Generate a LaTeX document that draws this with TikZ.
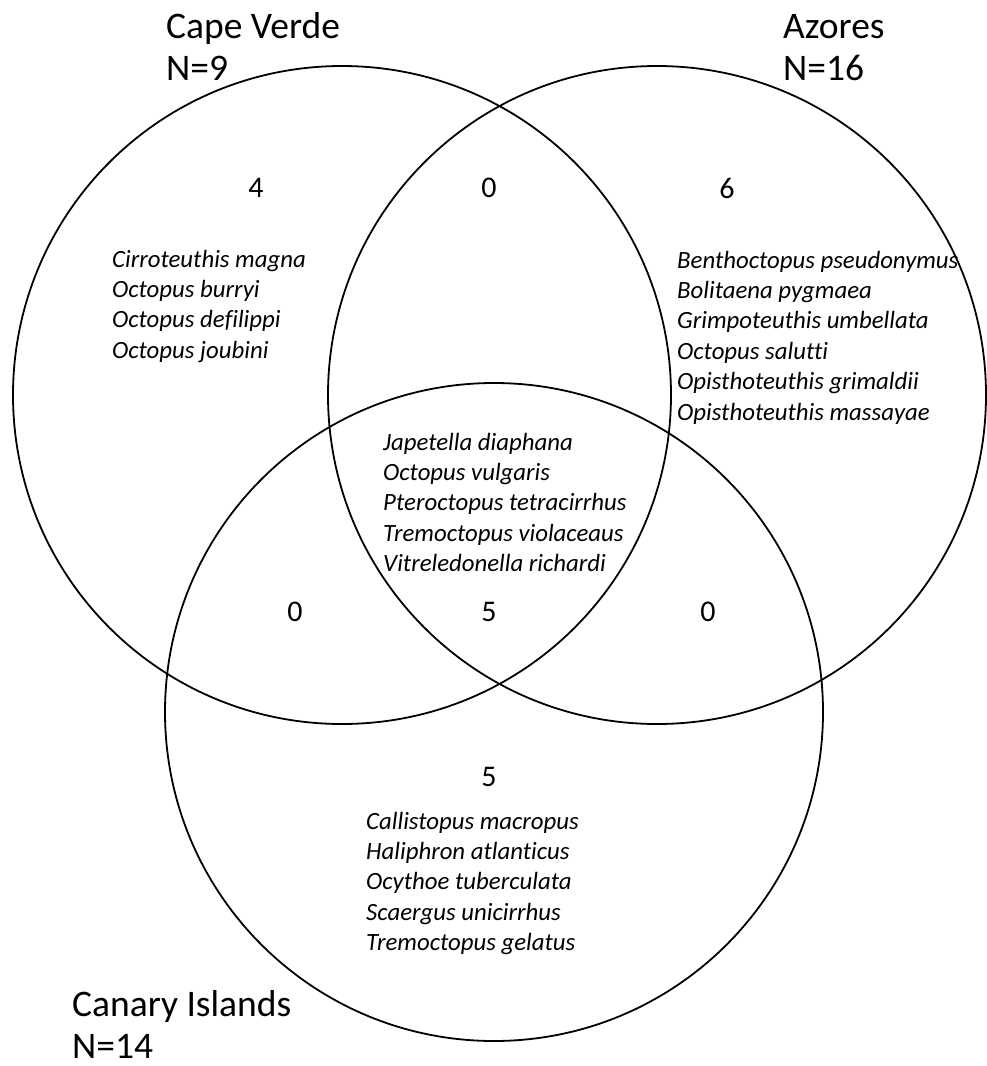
\documentclass[tikz,border=0pt]{standalone}
\usepackage{fontspec}
\setmainfont{Carlito}[Ligatures=NoCommon]
\begin{document}
\begin{tikzpicture}[x=1pt,y=-1pt,
  venn/.style={draw=black,line width=1.8pt},
  title/.style={anchor=base west,inner sep=0pt,font=\fontsize{37.5}{42}\selectfont},
  count/.style={inner sep=0pt,font=\fontsize{30}{34}\selectfont},
  species/.style={anchor=base west,inner sep=0pt,font=\fontsize{24.8}{28}\selectfont\itshape}]
\useasboundingbox (0,0) rectangle (986,1066);
% circles
\node[venn,circle,minimum size=658pt,inner sep=0pt] (cv) at (342,395) {};
\node[venn,circle,minimum size=658pt,inner sep=0pt] (az) at (657,395) {};
\node[venn,circle,minimum size=658pt,inner sep=0pt] (ci) at (494,712) {};
% titles
\node[title] (cvt) at (166,38) {Cape Verde};
\node[title] (cvn) at (166,80) {N=9};
\node[title] (azt) at (783,38) {Azores};
\node[title] (azn) at (783,80) {N=16};
\node[title] (cit) at (72,1016) {Canary Islands};
\node[title] (cin) at (72,1058) {N=14};
% counts
\node[count] (n1) at (256,188) {4};
\node[count] (n2) at (489,188) {0};
\node[count] (n3) at (727,188) {6};
\node[count] (n4) at (295,612) {0};
\node[count] (n5) at (489,612) {5};
\node[count] (n6) at (708,612) {0};
\node[count] (n7) at (489,777) {5};
% species lists
\foreach \t [count=\i] in {Cirroteuthis magna, Octopus burryi, Octopus defilippi, Octopus joubini}
  \node[species] (cvs\i) at (112,{267+30.4*(\i-1)}) {\t};
\foreach \t [count=\i] in {Benthoctopus pseudonymus, Bolitaena pygmaea, Grimpoteuthis umbellata, Octopus salutti, Opisthoteuthis grimaldii, Opisthoteuthis massayae}
  \node[species] (azs\i) at (677,{268+30.4*(\i-1)}) {\t};
\foreach \t [count=\i] in {Japetella diaphana, Octopus vulgaris, Pteroctopus tetracirrhus, Tremoctopus violaceaus, Vitreledonella richardi}
  \node[species] (ces\i) at (383,{450+30.4*(\i-1)}) {\t};
\foreach \t [count=\i] in {Callistopus macropus, Haliphron atlanticus, Ocythoe tuberculata, Scaergus unicirrhus, Tremoctopus gelatus}
  \node[species] (cis\i) at (366,{829+30.4*(\i-1)}) {\t};
\end{tikzpicture}
\end{document}
